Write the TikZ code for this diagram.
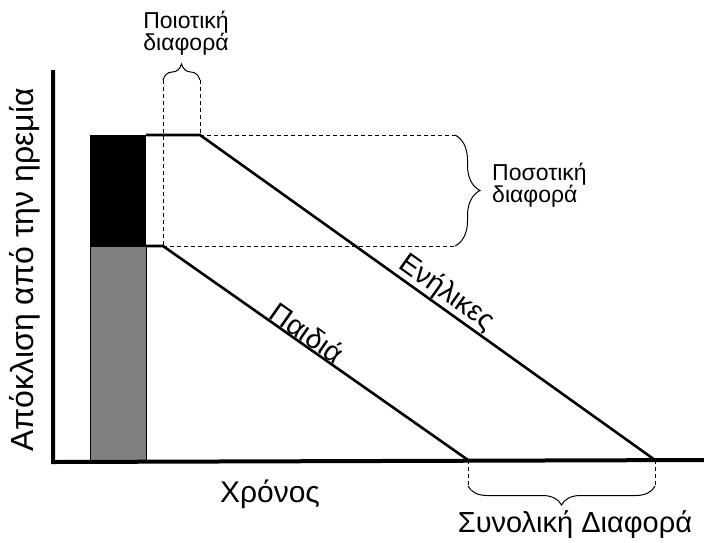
\documentclass[tikz,border=0pt]{standalone}
\usepackage{fontspec}
\setmainfont{Liberation Sans}
\usetikzlibrary{decorations.pathreplacing}
\definecolor{barfill}{HTML}{808080}
\begin{document}
\begin{tikzpicture}[x=1pt,y=-1pt,
  axis/.style={line width=4pt},
  curve/.style={line width=2.6pt,line join=miter},
  guide/.style={line width=1pt,dash pattern=on 4pt off 3pt},
  bracket/.style={decorate,line width=1pt},
  lbl/.style={inner sep=0pt,anchor=base,font=\fontsize{23}{23}\selectfont},
  axlbl/.style={inner sep=0pt,anchor=base,font=\fontsize{30}{30}\selectfont},
  linelbl/.style={inner sep=1pt,anchor=south,sloped,font=\fontsize{28.5}{28.5}\selectfont}]
\useasboundingbox (0,0) rectangle (704,542);
% key points
\coordinate (ytop) at (53,70);
\coordinate (xend) at (704,460);
\coordinate (aS) at (146,135);
\coordinate (aK) at (200,135);
\coordinate (aE) at (655,460);
\coordinate (cS) at (146,246);
\coordinate (cK) at (163,246);
\coordinate (cE) at (468,460);
% bars
\fill[barfill] (90,246) rectangle (146,460);
\draw[line width=0.8pt] (90,246) rectangle (146,460);
\fill[black] (90,135) rectangle (146,246);
% axes
\draw[axis] (ytop) -- (53,462) -- (xend);
% response curves
\draw[curve] (aS) -- (aK) -- (aE);
\draw[curve] (cS) -- (cK) -- (cE);
% guides
\coordinate (q1) at (163,80);
\coordinate (q2) at (200,80);
\draw[guide] (q1) -- (cK);
\draw[guide] (q2) -- (aK);
\coordinate (r1) at (455,135);
\coordinate (r2) at (455,246);
\draw[guide] (aK) -- (r1);
\draw[guide] (cK) -- (r2);
\coordinate (b1) at (468,486);
\coordinate (b2) at (655,486);
\draw[guide] (cE) -- (b1);
\draw[guide] (aE) -- (b2);
% braces
\draw[bracket,decoration={brace,amplitude=16pt}] (q1) -- (q2);
\draw[bracket,decoration={brace,amplitude=25pt}] (r1) -- (r2);
\draw[bracket,decoration={brace,amplitude=19pt,mirror}] (b1) -- (b2);
% labels
\node[lbl] (qualA) at (186,28) {Ποιοτική};
\node[lbl] (qualB) at (186,50) {διαφορά};
\node[lbl,anchor=base west] (quantA) at (492,180) {Ποσοτική};
\node[lbl,anchor=base west] (quantB) at (492,202) {διαφορά};
\node[axlbl,font=\fontsize{29}{29}\selectfont] (total) at (575,532) {Συνολική Διαφορά};
\node[axlbl] (time) at (270,502) {Χρόνος};
\node[axlbl,rotate=90,font=\fontsize{32}{32}\selectfont] (resp) at (33,270) {Απόκλιση από την ηρεμία};
\path (cK) -- (cE) node[linelbl,pos=0.45] (kids) {Παιδιά};
\path (aK) -- (aE) node[linelbl,pos=0.523] (adults) {Ενήλικες};
\end{tikzpicture}
\end{document}
